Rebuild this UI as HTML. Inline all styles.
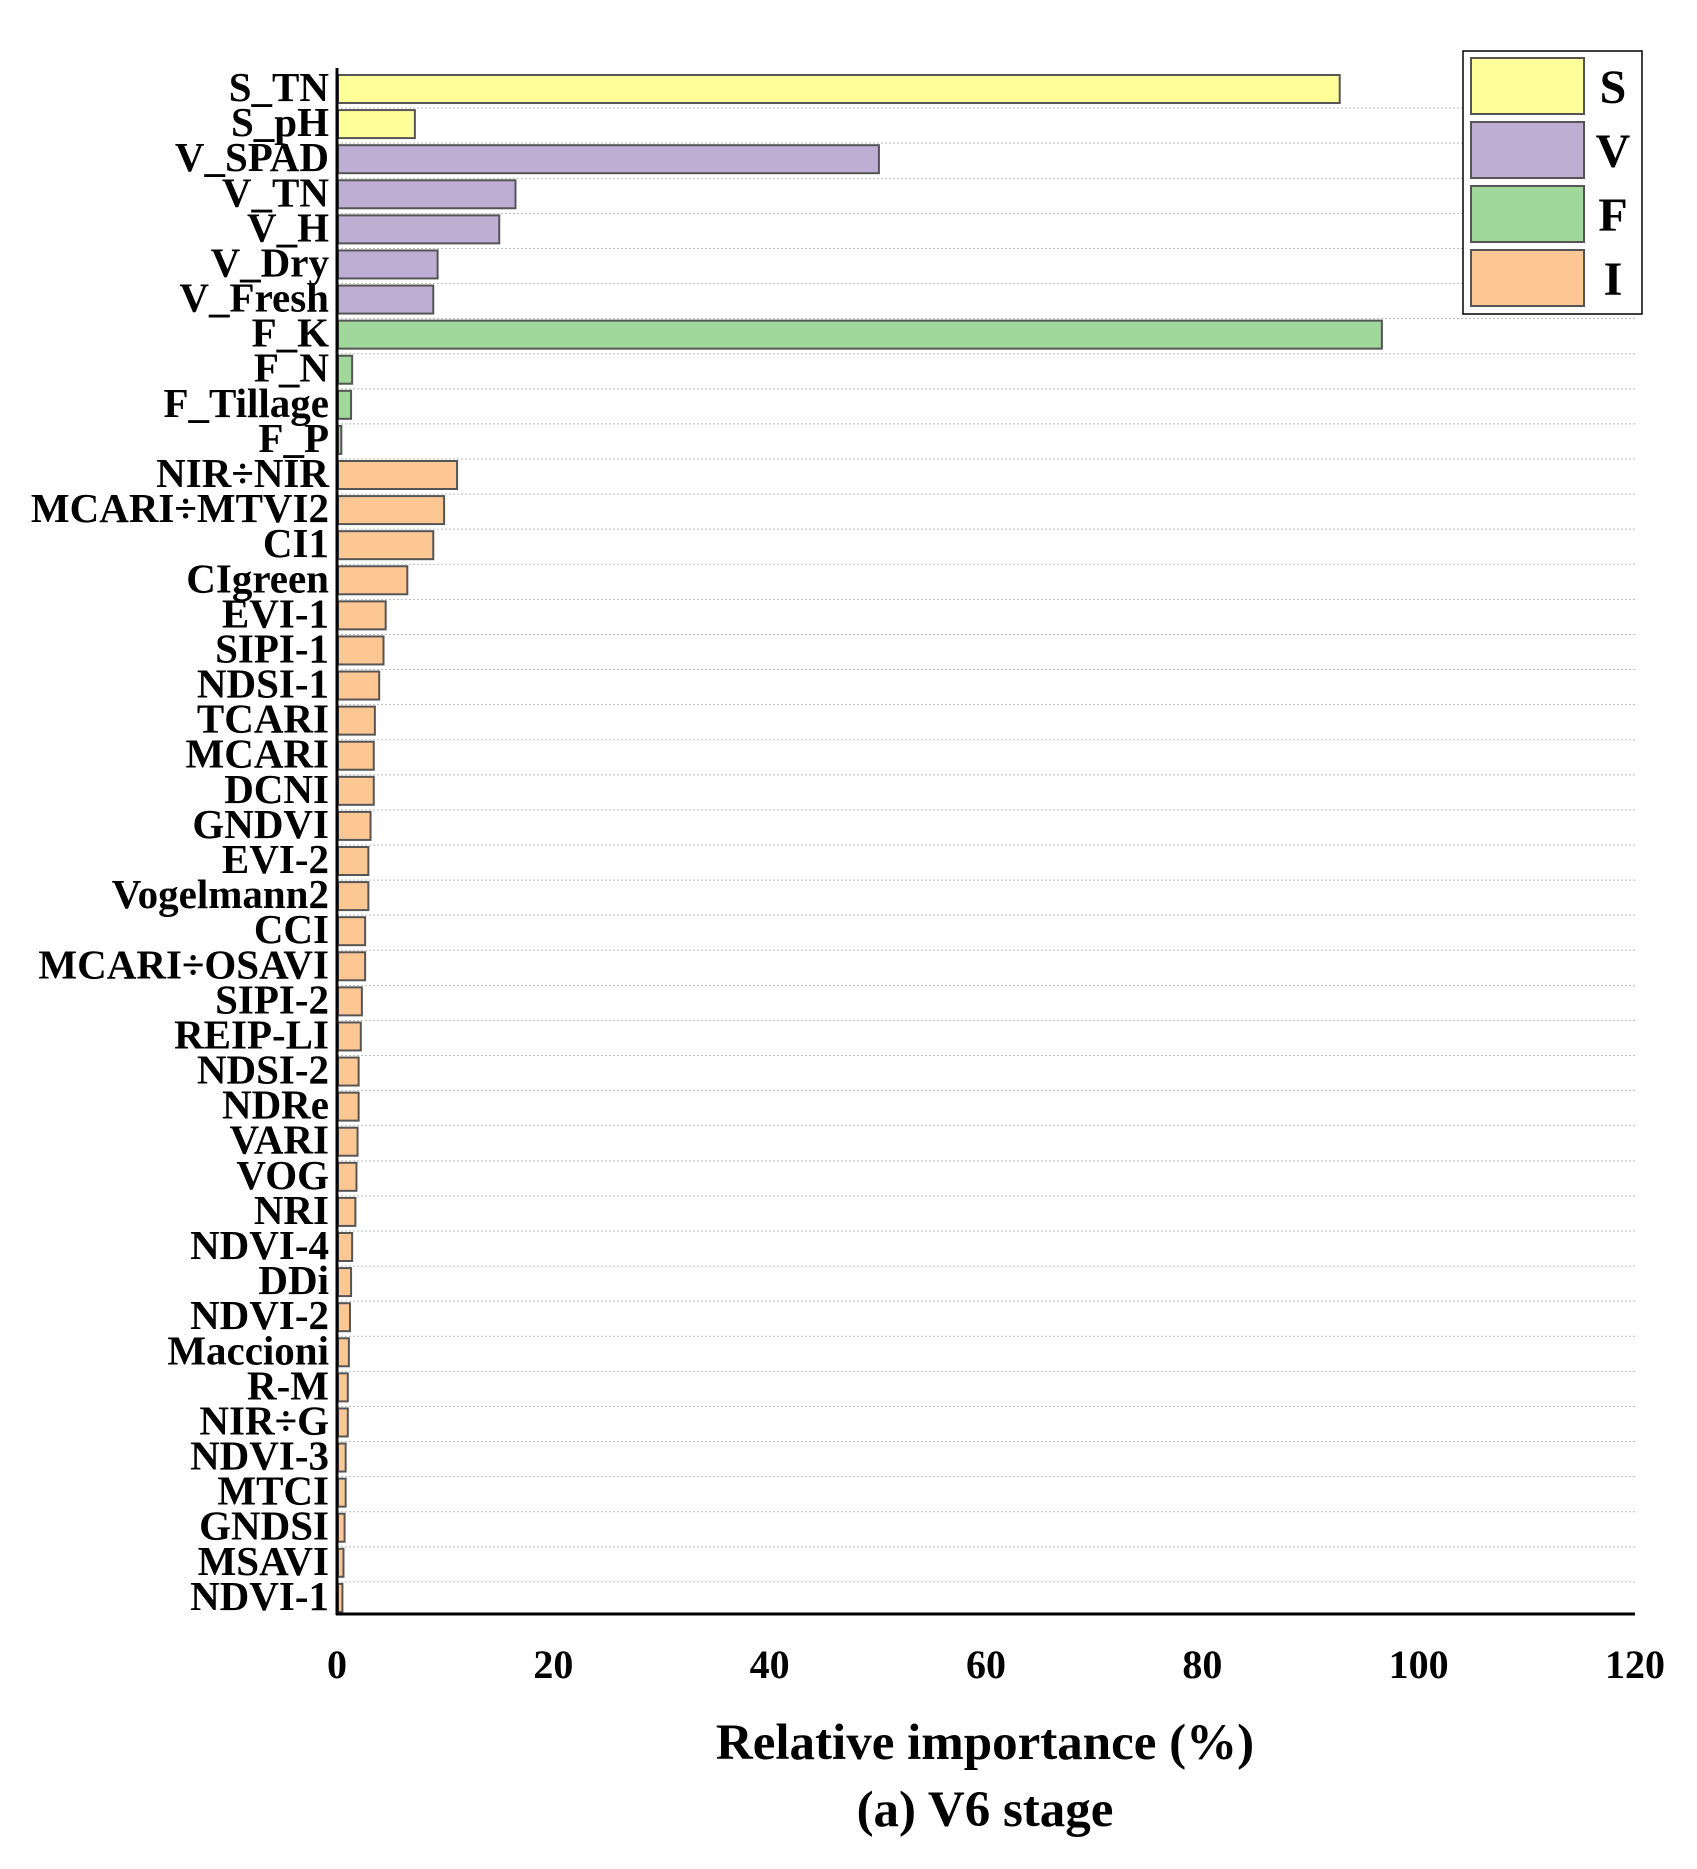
<!DOCTYPE html>
<html><head><meta charset="utf-8"><style>
html,body{margin:0;padding:0;background:#fff;width:1697px;height:1869px;overflow:hidden}
svg text{font-family:"Liberation Serif",serif;font-weight:bold;fill:#000}
</style></head><body>
<svg id="chart" width="1697" height="1869" viewBox="0 0 1697 1869" xmlns="http://www.w3.org/2000/svg">
<g id="grid"></g>
<g id="bars"></g>
<g id="ylabels"></g>
<g id="xticks"></g>
<line x1="337" y1="68" x2="337" y2="1615" stroke="#000" stroke-width="3"/>
<line x1="336" y1="1614" x2="1635" y2="1614" stroke="#000" stroke-width="3"/>
<text x="985" y="1759" font-size="51" text-anchor="middle">Relative importance (%)</text>
<text x="985" y="1826" font-size="51" text-anchor="middle">(a) V6 stage</text>
<g>
<rect x="1463" y="51" width="179" height="263" fill="#fff" stroke="#000" stroke-width="1.5"/>
<rect x="1471" y="58" width="113" height="56" fill="#ffff99" stroke="#555" stroke-width="2"/>
<rect x="1471" y="122" width="113" height="56" fill="#beaed4" stroke="#555" stroke-width="2"/>
<rect x="1471" y="186" width="113" height="56" fill="#9fd89a" stroke="#555" stroke-width="2"/>
<rect x="1471" y="250" width="113" height="56" fill="#fdc794" stroke="#555" stroke-width="2"/>
<text x="1613" y="103" font-size="48" text-anchor="middle">S</text>
<text x="1613" y="167" font-size="48" text-anchor="middle">V</text>
<text x="1613" y="231" font-size="48" text-anchor="middle">F</text>
<text x="1613" y="295" font-size="48" text-anchor="middle">I</text>
</g>
</svg>
<script>
const categories = ["S_TN","S_pH","V_SPAD","V_TN","V_H","V_Dry","V_Fresh","F_K","F_N","F_Tillage","F_P","NIR÷NIR","MCARI÷MTVI2","CI1","CIgreen","EVI-1","SIPI-1","NDSI-1","TCARI","MCARI","DCNI","GNDVI","EVI-2","Vogelmann2","CCI","MCARI÷OSAVI","SIPI-2","REIP-LI","NDSI-2","NDRe","VARI","VOG","NRI","NDVI-4","DDi","NDVI-2","Maccioni","R-M","NIR÷G","NDVI-3","MTCI","GNDSI","MSAVI","NDVI-1"];
const values = [92.7,7.2,50.1,16.5,15.0,9.3,8.9,96.6,1.4,1.3,0.4,11.1,9.9,8.9,6.5,4.5,4.3,3.9,3.5,3.4,3.4,3.1,2.9,2.9,2.6,2.6,2.3,2.2,2.0,2.0,1.9,1.8,1.7,1.4,1.3,1.2,1.1,1.0,1.0,0.8,0.8,0.7,0.6,0.5];
const groups = ["S","S","V","V","V","V","V","F","F","F","F","I","I","I","I","I","I","I","I","I","I","I","I","I","I","I","I","I","I","I","I","I","I","I","I","I","I","I","I","I","I","I","I","I"];
const xTicks = [0,20,40,60,80,100,120];

const colors = {S:"#ffff99",V:"#beaed4",F:"#9fd89a",I:"#fdc794"};
const NS = "http://www.w3.org/2000/svg";
const X0 = 337, X1 = 1635, XMAX = 120;
const TOP = 70, BOTTOM = 1614;
const pitch = (BOTTOM - TOP) / categories.length;
function xScale(v){ return X0 + (X1 - X0) * v / XMAX; }
function rowY(i){ return TOP + pitch * i; }

const gGrid = document.getElementById('grid');
const gBars = document.getElementById('bars');
const gLab = document.getElementById('ylabels');
const gTick = document.getElementById('xticks');

categories.forEach((c, i) => {
  if (i > 0) {
    const ln = document.createElementNS(NS, 'line');
    
    
    const gy = rowY(i) + 3;
    ln.setAttribute('x1', X0); ln.setAttribute('x2', X1);
    ln.setAttribute('y1', gy); ln.setAttribute('y2', gy);
    ln.setAttribute('stroke', '#bbb'); ln.setAttribute('stroke-width', '1');
    ln.setAttribute('stroke-dasharray', '2,2');
    gGrid.appendChild(ln);
  }
  const r = document.createElementNS(NS, 'rect');
  
  
  r.setAttribute('x', X0 + 1);
  r.setAttribute('y', rowY(i) + 5);
  r.setAttribute('width', Math.max(1, xScale(values[i]) - X0 - 1));
  r.setAttribute('height', 28);
  r.setAttribute('fill', colors[groups[i]]);
  r.setAttribute('stroke', '#555');
  r.setAttribute('stroke-width', '2');
  gBars.appendChild(r);

  const t = document.createElementNS(NS, 'text');
  
  
  t.setAttribute('x', 329);
  t.setAttribute('y', rowY(i) + 31);
  t.setAttribute('font-size', '41');
  t.setAttribute('text-anchor', 'end');
  t.textContent = c;
  gLab.appendChild(t);
});

xTicks.forEach(v => {
  const t = document.createElementNS(NS, 'text');
  
  
  t.setAttribute('x', xScale(v));
  t.setAttribute('y', 1678);
  t.setAttribute('font-size', '40');
  t.setAttribute('text-anchor', 'middle');
  t.textContent = v;
  gTick.appendChild(t);
});
</script>
</body></html>
